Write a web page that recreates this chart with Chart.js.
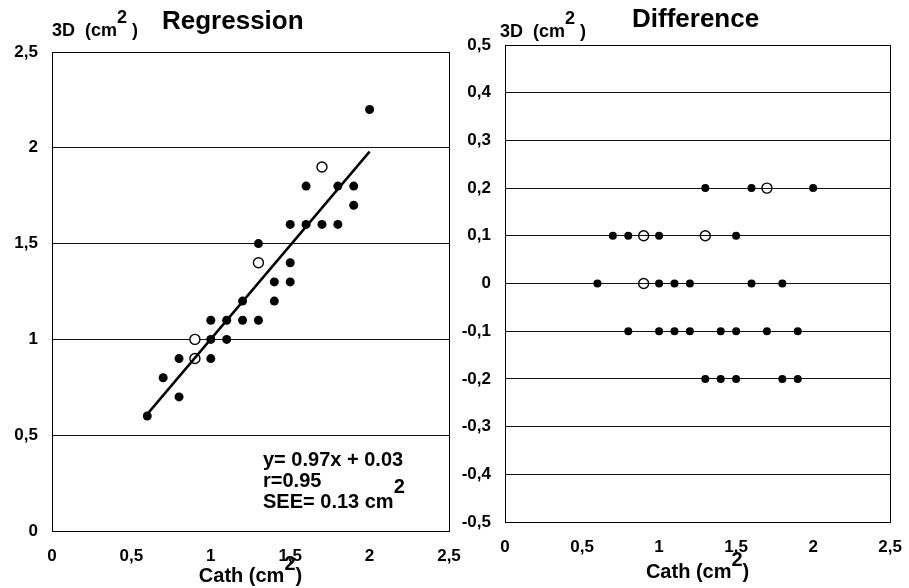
<!DOCTYPE html>
<html>
<head>
<meta charset="utf-8">
<script src="https://cdn.jsdelivr.net/npm/chart.js@4.4.0/dist/chart.umd.min.js"></script>
<style>
  body { margin: 0; background: #fff; width: 909px; height: 588px; overflow: hidden; position: relative; }
  #regChart { position: absolute; left: 0; top: 0; }
  #diffChart { position: absolute; left: 460px; top: 0; }
</style>
</head>
<body>
<canvas id="regChart" width="480" height="588"></canvas>
<canvas id="diffChart" width="449" height="588"></canvas>
<script>
// tick values
const cathTicks = [0, 0.5, 1, 1.5, 2, 2.5];
const regTicks = [0, 0.5, 1, 1.5, 2, 2.5];
const diffTicks = [-0.5, -0.4, -0.3, -0.2, -0.1, 0, 0.1, 0.2, 0.3, 0.4, 0.5];

// regression panel: filled points
const cathFilled = [0.6, 0.7, 0.8, 0.8, 1.0, 1.0, 1.0, 1.1, 1.1, 1.2, 1.2, 1.3, 1.3, 1.4, 1.4, 1.5, 1.5, 1.5, 1.6, 1.6, 1.7, 1.8, 1.8, 1.9, 1.9, 2.0];
const threeDFilled = [0.6, 0.8, 0.9, 0.7, 0.9, 1.0, 1.1, 1.0, 1.1, 1.1, 1.2, 1.1, 1.5, 1.3, 1.2, 1.4, 1.3, 1.6, 1.6, 1.8, 1.6, 1.6, 1.8, 1.8, 1.7, 2.2];
// regression panel: open points
const cathOpen = [0.9, 0.9, 1.3, 1.7];
const threeDOpen = [0.9, 1.0, 1.4, 1.9];
// fitted line ends
const fitCath = [0.6, 2.0];
const fit3D = [0.61, 1.98];

// difference panel
const diffCathFilled = [1.3, 1.6, 2.0, 0.7, 0.8, 1.0, 1.5, 0.6, 1.0, 1.1, 1.2, 1.6, 1.8, 0.8, 1.0, 1.1, 1.2, 1.4, 1.5, 1.7, 1.9, 1.3, 1.4, 1.5, 1.8, 1.9];
const diffFilled = [0.2, 0.2, 0.2, 0.1, 0.1, 0.1, 0.1, 0, 0, 0, 0, 0, 0, -0.1, -0.1, -0.1, -0.1, -0.1, -0.1, -0.1, -0.1, -0.2, -0.2, -0.2, -0.2, -0.2];
const diffCathOpen = [1.7, 0.9, 1.3, 0.9];
const diffOpen = [0.2, 0.1, 0.1, 0];

const statLines = ["y= 0.97x + 0.03", "r=0.95", "SEE= 0.13 cm"];

const FONT = '"Liberation Sans", Arial, sans-serif';

function toPoints(xs, ys) {
    return xs.map((x, i) => ({ x: x, y: ys[i] }));
}

function fmt(v) {
    return String(Math.round(v * 10) / 10).replace('.', ',');
}

// text with a raised "2"
function supText(ctx, x, y, main, sup, tail, size, rise, align) {
    ctx.font = 'bold ' + size + 'px ' + FONT;
    var w1 = ctx.measureText(main).width;
    var w2 = ctx.measureText(sup).width;
    var w3 = ctx.measureText(tail).width;
    var start = x;
    if (align === 'center') start = x - (w1 + w2 + w3) / 2;
    ctx.textAlign = 'left';
    ctx.textBaseline = 'alphabetic';
    ctx.fillText(main, start, y);
    ctx.fillText(sup, start + w1, y - rise);
    ctx.fillText(tail, start + w1 + w2, y);
}

const framePlugin = {
    id: 'frame',
    afterDraw(chart, args, opts) {
        const ctx = chart.ctx, a = chart.chartArea;
        ctx.save();
        ctx.strokeStyle = '#000';
        ctx.lineWidth = 1;
        ctx.strokeRect(Math.round(a.left) + 0.5, Math.round(a.top) + 0.5, Math.round(a.right - a.left), Math.round(a.bottom - a.top));
        ctx.fillStyle = '#000';
        supText(ctx, opts.unitX, opts.unitY, '3D  (cm', '2', ' )', 18, 13, 'left');
        ctx.font = 'bold 26px ' + FONT;
        ctx.textAlign = 'left';
        ctx.fillText(opts.title, opts.titleX, opts.titleY);
        supText(ctx, (a.left + a.right) / 2, opts.xTitleY, 'Cath (cm', '2', ')', 20, 12, 'center');
        if (opts.stats) {
            ctx.font = 'bold 20px ' + FONT;
            ctx.textAlign = 'left';
            ctx.fillText(opts.stats[0], opts.statX, opts.statY);
            ctx.fillText(opts.stats[1], opts.statX, opts.statY + 21);
            supText(ctx, opts.statX, opts.statY + 42, opts.stats[2], '2', '', 20, 15, 'left');
        }
        ctx.restore();
    }
};

function makeScales(yTicks, xW, xH, yPad) {
    return {
        x: {
            type: 'linear',
            min: 0, max: 2.5,
            afterBuildTicks: (s) => { s.ticks = cathTicks.map(v => ({ value: v })); },
            afterFit: (s) => { s.height = xH; },
            grid: { display: false },
            border: { display: false },
            ticks: { color: '#000', padding: 7, font: { family: FONT, size: 17, weight: 'bold' }, callback: fmt, maxRotation: 0 }
        },
        y: {
            type: 'linear',
            min: yTicks[0], max: yTicks[yTicks.length - 1],
            afterBuildTicks: (s) => { s.ticks = yTicks.map(v => ({ value: v })); },
            afterFit: (s) => { s.width = xW; },
            grid: { color: '#111', lineWidth: 1, drawTicks: false },
            border: { display: false },
            ticks: { color: '#000', padding: yPad, font: { family: FONT, size: 17, weight: 'bold' }, callback: fmt }
        }
    };
}

new Chart(document.getElementById('regChart'), {
    type: 'scatter',
    data: {
        datasets: [
            {
                data: toPoints(fitCath, fit3D),
                showLine: true,
                borderColor: '#000',
                borderWidth: 2.5,
                pointRadius: 0
            },
            {
                data: toPoints(cathFilled, threeDFilled),
                pointRadius: 4.5,
                pointBackgroundColor: '#000',
                pointBorderColor: '#000',
                pointBorderWidth: 0
            },
            {
                data: toPoints(cathOpen, threeDOpen),
                pointRadius: 5,
                pointBackgroundColor: '#fff',
                pointBorderColor: '#000',
                pointBorderWidth: 1.4
            }
        ]
    },
    options: {
        responsive: false,
        animation: false,
        devicePixelRatio: 1,
        layout: { padding: { top: 52, right: 31, bottom: 0, left: 0 } },
        scales: makeScales(regTicks, 52, 57, 14),
        plugins: {
            legend: { display: false },
            tooltip: { enabled: false },
            frame: {
                title: 'Regression', titleX: 162, titleY: 29,
                unitX: 52, unitY: 36,
                xTitleY: 582,
                stats: statLines, statX: 263, statY: 466
            }
        }
    },
    plugins: [framePlugin]
});

new Chart(document.getElementById('diffChart'), {
    type: 'scatter',
    data: {
        datasets: [
            {
                data: toPoints(diffCathFilled, diffFilled),
                pointRadius: 4,
                pointBackgroundColor: '#000',
                pointBorderColor: '#000',
                pointBorderWidth: 0
            },
            {
                data: toPoints(diffCathOpen, diffOpen),
                pointRadius: 5,
                pointBackgroundColor: 'rgba(255,255,255,0)',
                pointBorderColor: '#000',
                pointBorderWidth: 1.4
            }
        ]
    },
    options: {
        responsive: false,
        animation: false,
        devicePixelRatio: 1,
        layout: { padding: { top: 45, right: 16, bottom: 0, left: 0 } },
        scales: makeScales(diffTicks, 45, 66, 14),
        plugins: {
            legend: { display: false },
            tooltip: { enabled: false },
            frame: {
                title: 'Difference', titleX: 172, titleY: 27,
                unitX: 40, unitY: 37,
                xTitleY: 578,
                stats: null
            }
        }
    },
    plugins: [framePlugin]
});
</script>
</body>
</html>
